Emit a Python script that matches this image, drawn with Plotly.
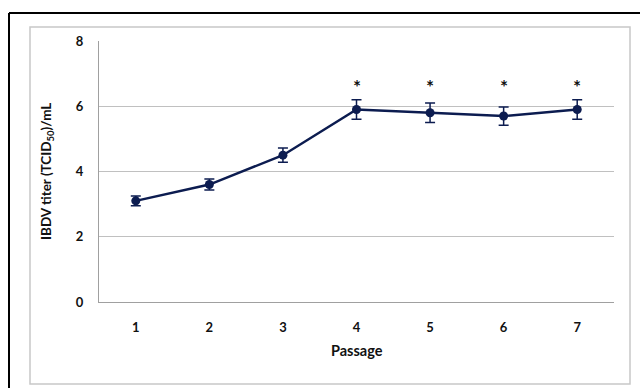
import plotly.graph_objects as go

passage = [1, 2, 3, 4, 5, 6, 7]
titer = [3.1, 3.6, 4.5, 5.9, 5.8, 5.7, 5.9]
err = [0.15, 0.17, 0.22, 0.3, 0.3, 0.28, 0.3]
star_x = [4, 5, 6, 7]
star_y = [6.6, 6.6, 6.6, 6.6]
y_ticks = [0, 2, 4, 6, 8]

W, H = 640, 388
L, R, T, B = 99, 26, 41, 86
pw, ph = W - L - R, H - T - B

def px(x):
    return (x - L) / pw

def py(y):
    return (H - B - y) / ph

navy = "#0c1c50"
font = "Lato"

fig = go.Figure()
fig.add_trace(go.Scatter(
    x=passage, y=titer, mode="lines+markers",
    line=dict(color=navy, width=2.5),
    marker=dict(color=navy, size=9, symbol="circle"),
    error_y=dict(type="data", array=err, visible=True, color=navy, thickness=1.5, width=5),
    showlegend=False,
))

annotations = []
for sx, sy in zip(star_x, star_y):
    annotations.append(dict(x=sx, y=sy, xref="x", yref="y", text="<b>*</b>", showarrow=False,
                            font=dict(family=font, size=19, color="#111")))
annotations.append(dict(x=px(47), y=py(172), xref="paper", yref="paper", textangle=-90,
                        xanchor="center", yanchor="middle",
                        text="<b>IBDV titer (TCID<sub>50</sub>)/mL</b>", showarrow=False,
                        font=dict(family=font, size=13.5, color="#111")))
annotations.append(dict(x=0.5, y=py(350), xref="paper", yref="paper",
                        xanchor="center", yanchor="middle",
                        text="<b>Passage</b>", showarrow=False,
                        font=dict(family=font, size=14.5, color="#111")))

shapes = [
    dict(type="rect", xref="paper", yref="paper", x0=px(30), x1=px(630), y0=py(384), y1=py(27),
         line=dict(color="#c8c8c8", width=1.5), layer="below"),
    dict(type="line", xref="paper", yref="paper", x0=px(9), x1=px(660), y0=py(13), y1=py(13),
         line=dict(color="#000", width=2)),
    dict(type="line", xref="paper", yref="paper", x0=px(9), x1=px(9), y0=py(13), y1=py(400),
         line=dict(color="#000", width=2)),
]

fig.update_layout(
    width=W, height=H,
    margin=dict(l=L, r=R, t=T, b=B),
    paper_bgcolor="white", plot_bgcolor="white",
    annotations=annotations, shapes=shapes,
    xaxis=dict(range=[0.5, 7.5], tickvals=passage, ticktext=[f"<b>{p}</b>" for p in passage],
               showgrid=False, zeroline=False, showline=True, linecolor="#a0a0a0", linewidth=1,
               ticks="", ticklabelstandoff=13,
               tickfont=dict(family=font, size=13, color="#111"), fixedrange=True),
    yaxis=dict(range=[0, 8], tickvals=y_ticks, ticktext=[f"<b>{v}</b>" for v in y_ticks],
               showgrid=True, gridcolor="#c0c0c0", gridwidth=1, zeroline=False,
               showline=True, linecolor="#a0a0a0", linewidth=1, ticks="",
               ticklabelstandoff=12,
               tickfont=dict(family=font, size=13, color="#111"), fixedrange=True),
)

fig.write_html("out.html")
